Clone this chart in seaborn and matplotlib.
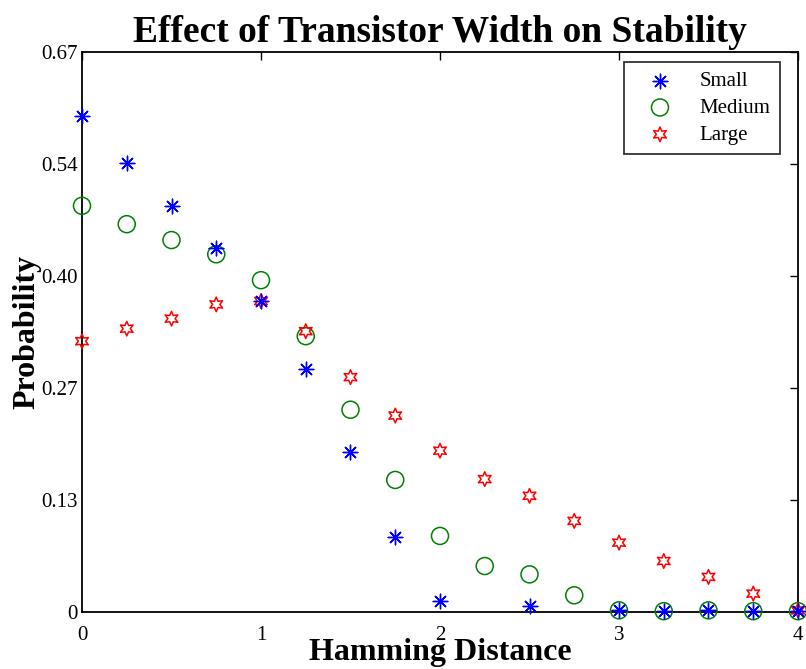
import numpy as np
import pandas as pd
import matplotlib
matplotlib.use("Agg")
import matplotlib.pyplot as plt
import seaborn as sns

hamming = [0, 0.25, 0.5, 0.75, 1, 1.25, 1.5, 1.75, 2, 2.25, 2.5, 2.75, 3, 3.25, 3.5, 3.75, 4]
small = [0.593, 0.537, 0.486, 0.435, 0.372, 0.291, 0.191, 0.090, 0.013, np.nan, 0.007, np.nan,
         0.002, 0.001, 0.002, 0.001, 0.001]
medium = [0.486, 0.464, 0.445, 0.428, 0.397, 0.330, 0.242, 0.158, 0.091, 0.055, 0.045, 0.020,
          0.002, 0.001, 0.002, 0.001, 0.001]
large = [0.324, 0.339, 0.351, 0.368, 0.372, 0.336, 0.281, 0.235, 0.193, 0.159, 0.139, 0.109,
         0.083, 0.061, 0.042, 0.022, 0.002]
series_names = ["Small", "Medium", "Large"]
yticks = [0, 0.134, 0.268, 0.402, 0.536, 0.67]
ytick_labels = ["0", "0.13", "0.27", "0.40", "0.54", "0.67"]
xticks = [0, 1, 2, 3, 4]

sns.set_style("white")
plt.rcParams['font.family'] = ['Liberation Serif', 'DejaVu Serif']
plt.rcParams['text.color'] = 'black'
plt.rcParams['axes.labelcolor'] = 'black'

fig = plt.figure(figsize=(8.06, 6.69), dpi=100)
ax = fig.add_axes([82/806, 1-612/669, (798-82)/806, (612-52)/669])

df_small = pd.DataFrame({"x": hamming, "y": small}).dropna()
df_med = pd.DataFrame({"x": hamming, "y": medium}).dropna()
df_large = pd.DataFrame({"x": hamming, "y": large}).dropna()

sns.scatterplot(data=df_med, x="x", y="y", ax=ax, marker="o", s=150,
                facecolor="none", edgecolor="#008000", linewidth=1.1,
                label=series_names[1], zorder=3, clip_on=False)
sns.scatterplot(data=df_large, x="x", y="y", ax=ax, marker=(6, 1, 0), s=110,
                facecolor="none", edgecolor="#ff0000", linewidth=1.1,
                label=series_names[2], zorder=4, clip_on=False)
sns.scatterplot(data=df_small, x="x", y="y", ax=ax, marker=(8, 2, 0), s=110,
                color="#0000ff", linewidth=1.0,
                label=series_names[0], zorder=5, clip_on=False)

ax.set_xlim(0, 4)
ax.set_ylim(0, 0.67)
ax.set_xticks(xticks)
ax.set_xticklabels([str(t) for t in xticks])
ax.set_yticks(yticks)
ax.set_yticklabels(ytick_labels)
ax.tick_params(axis="both", direction="in", length=6, width=1, top=True, right=True,
               labelsize=15, colors="black")
ax.tick_params(axis="x", pad=10)
ax.tick_params(axis="y", pad=3)
for sp in ax.spines.values():
    sp.set_visible(True)
    sp.set_color("black")
    sp.set_linewidth(1.3)
    sp.set_zorder(2)

ax.set_title("Effect of Transistor Width on Stability", fontsize=27, fontweight="bold",
             pad=7, color="black")
ax.set_xlabel("Hamming Distance", fontsize=23, fontweight="bold", labelpad=-5)
ax.set_ylabel("Probability", fontsize=23, fontweight="bold", labelpad=0)

handles, labels = ax.get_legend_handles_labels()
order = [labels.index(n) for n in series_names]
leg = ax.legend([handles[i] for i in order], [labels[i] for i in order],
                loc="upper right", bbox_to_anchor=(0.9746, 0.982), fancybox=False,
                edgecolor="black", fontsize=15, handletextpad=0.6,
                borderpad=0.45, labelspacing=0.35, handlelength=2.6, borderaxespad=0)
leg.get_frame().set_linewidth(1.3)
for t in leg.get_texts():
    t.set_color("black")

fig.savefig("out.png", dpi=100)
